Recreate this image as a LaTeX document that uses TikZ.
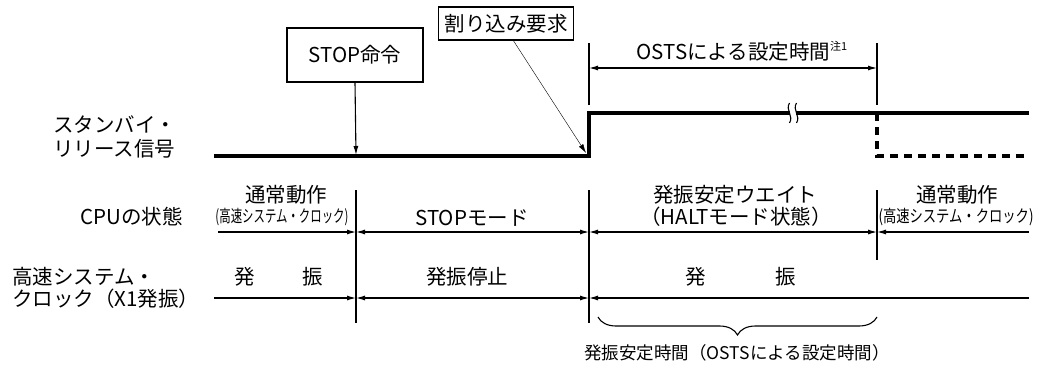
\documentclass[tikz,border=0pt]{standalone}
\usepackage{fontspec}
\usepackage{graphicx}
\setmainfont{Noto Sans CJK JP}
\usetikzlibrary{arrows.meta,decorations.pathreplacing}
\begin{document}
\begin{tikzpicture}[x=1pt,y=-1pt,
  thin line/.style={line width=1.1pt},
  sig/.style={line width=3.2pt},
  dimarr/.style={thin line,-{Latex[length=9pt,width=5pt]}},
  dimarrs/.style={thin line,{Latex[length=9pt,width=5pt]}-{Latex[length=9pt,width=5pt]}},
  lbl/.style={inner sep=0pt,font=\fontsize{20.5}{22}\selectfont},
  box/.style={draw,thin line,inner sep=0pt,font=\fontsize{20.5}{22}\selectfont},
]
\useasboundingbox (0,0) rectangle (1037,369);

% boxes
\node[box,minimum width=136pt,minimum height=54pt] (stop) at (355,55) {STOP命令};
\node[box,minimum width=135pt,minimum height=33pt] (irq) at (506,23.5) {割り込み要求};

% left labels
\node[lbl,anchor=west] (sb1) at (53,125) {スタンバイ・};
\node[lbl,anchor=west] (sb2) at (53,149) {リリース信号};
\node[lbl,anchor=east] (cpu) at (183,217) {CPUの状態};
\node[lbl,anchor=west] (hs1) at (12,277) {高速システム・};
\node[lbl,anchor=west] (hs2) at (12,299) {クロック（X1発振）};

% signal
\coordinate (s0) at (214,156);
\coordinate (s1) at (589,156);
\coordinate (s2) at (589,113);
\coordinate (s3) at (1029,113);
\coordinate (d0) at (877,113);
\coordinate (d1) at (877,156);
\coordinate (d2) at (1029,156);
\draw[sig,line join=miter] (s0) -- (s1) -- (s2) -- (s3);
\draw[sig,dash pattern=on 8pt off 6pt] (d0) -- (d1) -- (d2);
% break mark
\coordinate (bk) at (793,113);
\fill[white] ([xshift=-3pt,yshift=-5pt]bk) rectangle ([xshift=3pt,yshift=5pt]bk);
\draw[line width=1.1pt] ([xshift=-3.5pt,yshift=-10pt]bk) .. controls ([xshift=1pt,yshift=-3pt]bk) and ([xshift=-8pt,yshift=3pt]bk) .. ([xshift=-3.5pt,yshift=10pt]bk);
\draw[line width=1.1pt] ([xshift=3.5pt,yshift=-10pt]bk) .. controls ([xshift=8pt,yshift=-3pt]bk) and ([xshift=-1pt,yshift=3pt]bk) .. ([xshift=3.5pt,yshift=10pt]bk);

% arrows from boxes
\coordinate (stopend) at (356,155);
\draw[dimarr] (stop.south) -- (stopend);
\coordinate (irqs) at (513,40);
\coordinate (irqe) at (586,153);
\draw[thin,-{Latex[length=9pt,width=5pt]}] (irqs) -- (irqe);

% OSTS dimension
\coordinate (t1a) at (589,43); \coordinate (t1b) at (589,105);
\coordinate (t2a) at (877,43); \coordinate (t2b) at (877,105);
\draw[thin line] (t1a) -- (t1b);
\draw[thin line] (t2a) -- (t2b);
\coordinate (o1) at (589,68); \coordinate (o2) at (877,68);
\draw[dimarrs] (o1) -- (o2);
\node[lbl] (osts) at (742,51) {OSTSによる設定時間\raisebox{0.42em}{\fontsize{11}{11}\selectfont 注1}};

% vertical lines
\coordinate (va1) at (356,190); \coordinate (va2) at (356,323);
\coordinate (vb1) at (589,190); \coordinate (vb2) at (589,323);
\coordinate (vc1) at (877,190); \coordinate (vc2) at (877,260);
\draw[thin line] (va1) -- (va2);
\draw[thin line] (vb1) -- (vb2);
\draw[thin line] (vc1) -- (vc2);

% CPU row
\coordinate (c0) at (218,232); \coordinate (ca) at (356,232);
\coordinate (cb) at (589,232); \coordinate (cc) at (877,232);
\coordinate (c9) at (1029,232);
\draw[dimarr] (c0) -- (ca);
\draw[dimarrs] (ca) -- (cb);
\draw[dimarrs] (cb) -- (cc);
\draw[thin line,{Latex[length=9pt,width=5pt]}-] (cc) -- (c9);
\node[lbl] (n1) at (286,195) {通常動作};
\node[inner sep=0pt] (n1s) at (282,217) {\resizebox{133pt}{\height}{\fontsize{17}{17}\selectfont (高速システム・クロック)}};
\node[lbl] (stopm) at (472,218) {STOPモード};
\node[lbl] (wait1) at (735,195) {発振安定ウエイト};
\node[lbl] (wait2) at (736,217) {（HALTモード状態）};
\node[lbl] (n2) at (957,195) {通常動作};
\node[inner sep=0pt] (n2s) at (956,217) {\resizebox{155pt}{\height}{\fontsize{17}{17}\selectfont (高速システム・クロック)}};

% clock row
\coordinate (k0) at (214,298); \coordinate (ka) at (356,298);
\coordinate (kb) at (589,298); \coordinate (k9) at (1029,298);
\draw[dimarr] (k0) -- (ka);
\draw[dimarrs] (ka) -- (kb);
\draw[thin line,{Latex[length=9pt,width=5pt]}-] (kb) -- (k9);
\node[lbl] (osc1) at (279,277) {発\hspace{2.3em}振};
\node[lbl] (oscstop) at (467,277) {発振停止};
\node[lbl] (osc2) at (741,277) {発\hspace{3.4em}振};

% brace
\coordinate (br1) at (598,317); \coordinate (br2) at (877,317);
\draw[thin line,decorate,decoration={brace,mirror,amplitude=18pt,aspect=0.5}] (br1) -- (br2);
\node[lbl,font=\fontsize{17.5}{19}\selectfont] (brl) at (737,353) {発振安定時間（OSTSによる設定時間）};
\end{tikzpicture}
\end{document}
